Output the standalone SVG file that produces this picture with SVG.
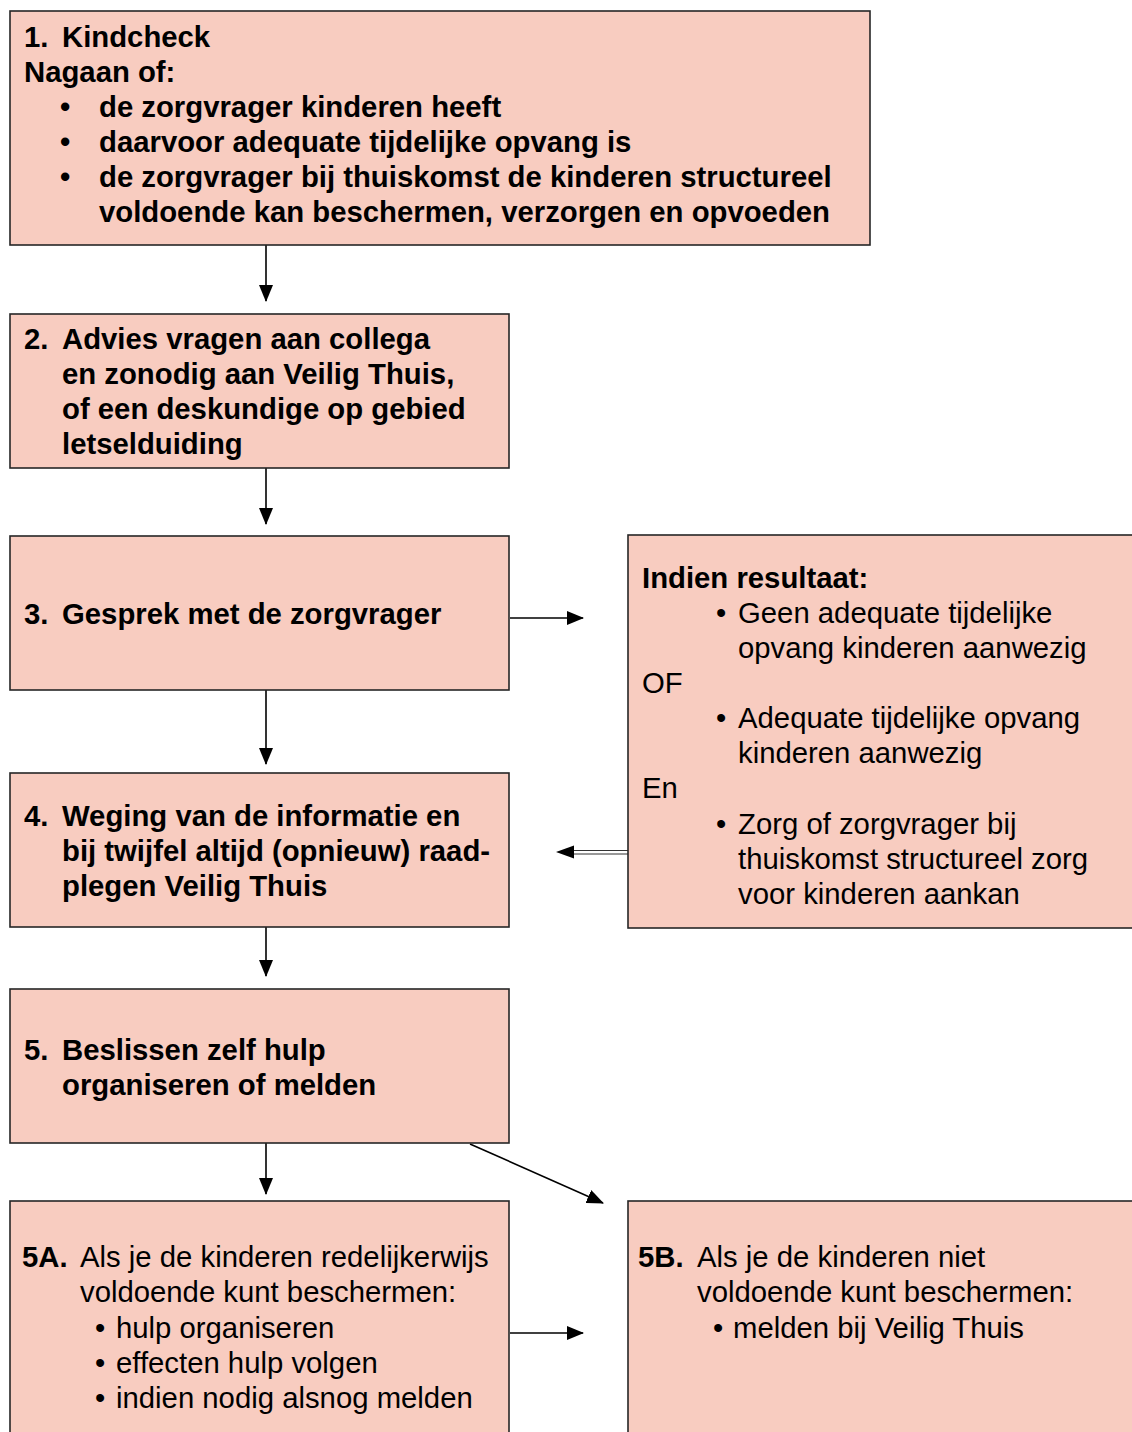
<svg xmlns="http://www.w3.org/2000/svg" width="1132" height="1432" viewBox="0 0 1132 1432">
<defs>
<style>
.box{fill:#F8CCC0;stroke:#262626;stroke-width:1.6}
.t{font-family:"Liberation Sans",Arial,sans-serif;font-size:29.3px;fill:#000}
.b{font-weight:bold}
.c{stroke:#000;stroke-width:1.6;fill:none}
</style>
<marker id="ah" markerWidth="17" markerHeight="14" refX="16" refY="7" orient="auto" markerUnits="userSpaceOnUse">
<path d="M0,0 L17,7 L0,14 Z" fill="#000"/>
</marker>
</defs>
<rect width="1132" height="1432" fill="#fff"/>
<g id="connectors">
<line class="c" x1="266" y1="245" x2="266" y2="301" marker-end="url(#ah)"/>
<line class="c" x1="266" y1="468" x2="266" y2="524" marker-end="url(#ah)"/>
<line class="c" x1="266" y1="690" x2="266" y2="764" marker-end="url(#ah)"/>
<line class="c" x1="266" y1="927" x2="266" y2="976" marker-end="url(#ah)"/>
<line class="c" x1="266" y1="1143" x2="266" y2="1194" marker-end="url(#ah)"/>
<line class="c" x1="510" y1="618" x2="583" y2="618" marker-end="url(#ah)"/>
<line x1="628" y1="850.5" x2="572" y2="850.5" stroke="#333" stroke-width="1.2"/>
<line x1="628" y1="854" x2="572" y2="854" stroke="#333" stroke-width="1.2"/>
<path d="M556,852 L574,845.5 L574,858.5 Z" fill="#000"/>
<line class="c" x1="470" y1="1144" x2="603" y2="1203" marker-end="url(#ah)"/>
<line class="c" x1="510" y1="1333" x2="583" y2="1333" marker-end="url(#ah)"/>
</g>
<g id="n1">
<rect class="box" x="10" y="11" width="860" height="234"/>
<text class="t b" x="24" y="47">1.</text>
<text class="t b" x="62" y="47">Kindcheck</text>
<text class="t b" x="24" y="82">Nagaan of:</text>
<text class="t b" x="60" y="117">•</text>
<text class="t b" x="99" y="117">de zorgvrager kinderen heeft</text>
<text class="t b" x="60" y="152">•</text>
<text class="t b" x="99" y="152">daarvoor adequate tijdelijke opvang is</text>
<text class="t b" x="60" y="187">•</text>
<text class="t b" x="99" y="187">de zorgvrager bij thuiskomst de kinderen structureel</text>
<text class="t b" x="99" y="222">voldoende kan beschermen, verzorgen en opvoeden</text>
</g>
<g id="n2">
<rect class="box" x="10" y="314" width="499" height="154"/>
<text class="t b" x="24" y="349">2.</text>
<text class="t b" x="62" y="349">Advies vragen aan collega</text>
<text class="t b" x="62" y="384">en zonodig aan Veilig Thuis,</text>
<text class="t b" x="62" y="419">of een deskundige op gebied</text>
<text class="t b" x="62" y="454">letselduiding</text>
</g>
<g id="n3">
<rect class="box" x="10" y="536" width="499" height="154"/>
<text class="t b" x="24" y="624">3.</text>
<text class="t b" x="62" y="624">Gesprek met de zorgvrager</text>
</g>
<g id="nr">
<rect class="box" x="628" y="535" width="510" height="393"/>
<text class="t b" x="642" y="588">Indien resultaat:</text>
<text class="t" x="716" y="623">•</text>
<text class="t" x="738" y="623">Geen adequate tijdelijke</text>
<text class="t" x="738" y="658">opvang kinderen aanwezig</text>
<text class="t" x="642" y="693">OF</text>
<text class="t" x="716" y="728">•</text>
<text class="t" x="738" y="728">Adequate tijdelijke opvang</text>
<text class="t" x="738" y="763">kinderen aanwezig</text>
<text class="t" x="642" y="798">En</text>
<text class="t" x="716" y="834">•</text>
<text class="t" x="738" y="834">Zorg of zorgvrager bij</text>
<text class="t" x="738" y="869">thuiskomst structureel zorg</text>
<text class="t" x="738" y="904">voor kinderen aankan</text>
</g>
<g id="n4">
<rect class="box" x="10" y="773" width="499" height="154"/>
<text class="t b" x="24" y="826">4.</text>
<text class="t b" x="62" y="826">Weging van de informatie en</text>
<text class="t b" x="62" y="861">bij twijfel altijd (opnieuw) raad-</text>
<text class="t b" x="62" y="896">plegen Veilig Thuis</text>
</g>
<g id="n5">
<rect class="box" x="10" y="989" width="499" height="154"/>
<text class="t b" x="24" y="1060">5.</text>
<text class="t b" x="62" y="1060">Beslissen zelf hulp</text>
<text class="t b" x="62" y="1095">organiseren of melden</text>
</g>
<g id="n5a">
<rect class="box" x="10" y="1201" width="499" height="250"/>
<text class="t b" x="22" y="1267">5A.</text>
<text class="t" x="80" y="1267">Als je de kinderen redelijkerwijs</text>
<text class="t" x="80" y="1302">voldoende kunt beschermen:</text>
<text class="t" x="95" y="1338">•</text>
<text class="t" x="116" y="1338">hulp organiseren</text>
<text class="t" x="95" y="1373">•</text>
<text class="t" x="116" y="1373">effecten hulp volgen</text>
<text class="t" x="95" y="1408">•</text>
<text class="t" x="116" y="1408">indien nodig alsnog melden</text>
</g>
<g id="n5b">
<rect class="box" x="628" y="1201" width="510" height="250"/>
<text class="t b" x="638" y="1267">5B.</text>
<text class="t" x="697" y="1267">Als je de kinderen niet</text>
<text class="t" x="697" y="1302">voldoende kunt beschermen:</text>
<text class="t" x="713" y="1338">•</text>
<text class="t" x="733" y="1338">melden bij Veilig Thuis</text>
</g>
</svg>
